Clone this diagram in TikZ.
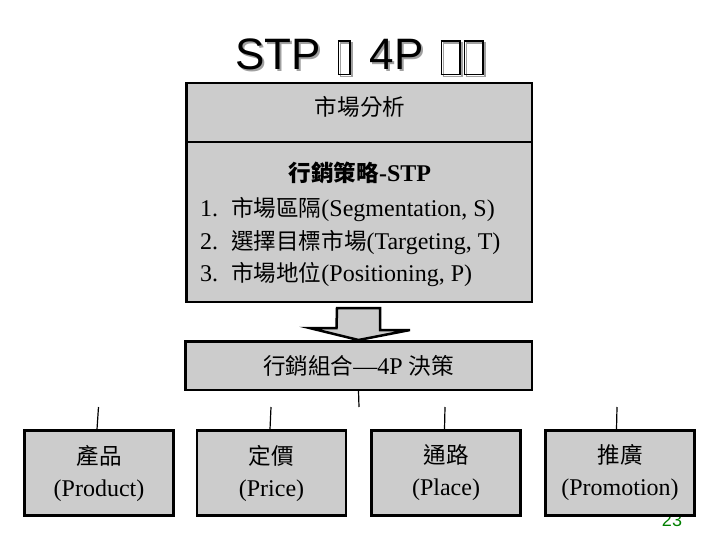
\documentclass[tikz,border=0pt]{standalone}
\usepackage{fontspec}
\setmainfont{Liberation Serif}
\setsansfont{Liberation Sans}
\newfontfamily\cjk[Scale=0.94]{Noto Sans CJK TC}
\usetikzlibrary{calc}

\definecolor{boxgray}{RGB}{204,204,204}
\definecolor{pagegreen}{RGB}{0,128,0}
\definecolor{shade}{RGB}{160,160,160}

% empty glyph boxes of the title
\newcommand\tofu[1]{\raisebox{-4pt}{\fboxsep=0pt\fboxrule=1.5pt\fbox{\rule{0pt}{32pt}\hspace{#1}}}}
\newcommand\titletext{STP\hspace{17pt}\tofu{10pt}\hspace{19pt}4P\hspace{17pt}\tofu{17pt}\kern3pt\tofu{17pt}}
\newcommand\shadowed[1]{\makebox[0pt][l]{\raisebox{-2pt}{\hspace{2pt}\color{shade}#1}}#1}

\tikzset{
  mainbox/.style={draw, line width=2.5pt, fill=boxgray, inner sep=0pt},
  pbox/.style={mainbox, minimum width=149pt, minimum height=85pt, align=center,
    font=\fontsize{24}{32}\selectfont},
  txt/.style={anchor=base, inner sep=0pt, font=\fontsize{24}{28}\selectfont},
  item/.style={txt, anchor=base west},
  link/.style={line width=1.2pt},
  blockarrow/.style={line width=2.5pt, fill=boxgray, line join=miter},
}

\begin{document}
\begin{tikzpicture}[x=1pt,y=-1pt]
\fill[white] (0,0) rectangle (720,540);
\useasboundingbox (0,0) rectangle (720,540);

% title with its shadow
\node[anchor=base west, inner sep=0pt, font=\sffamily\fontsize{44}{44}\selectfont]
  (title) at (235,70) {\shadowed{\titletext}};

% page number, partly under the last box
\node[anchor=base, inner sep=0pt, text=pagegreen, font=\sffamily\fontsize{18}{18}\selectfont]
  (pnum) at (672,526.5) {23};

% market analysis and STP
\node[mainbox, minimum width=345.5pt, minimum height=218.5pt] (stp) at (359,192.5) {};
\draw[line width=1.3pt] (stp.west |- 0,142) -- (stp.east |- 0,142);
\node[txt] (ana) at (360,116) {\cjk 市場分析};
\node[txt, font=\fontsize{24}{28}\selectfont\bfseries] (strat) at (360,182) {{\cjk 行銷策略}-STP};
\node[item] (s1) at (200,217) {\makebox[31pt][l]{1.}{\cjk 市場區隔}(Segmentation, S)};
\node[item] (s2) at (200,249) {\makebox[31pt][l]{2.}{\cjk 選擇目標市場}(Targeting, T)};
\node[item] (s3) at (200,281) {\makebox[31pt][l]{3.}{\cjk 市場地位}(Positioning, P)};

% marketing mix
\node[mainbox, minimum width=346.5pt, minimum height=48.5pt, font=\fontsize{24}{28}\selectfont]
  (mix) at (358.5,365.5) {{\cjk 行銷組合}—4P {\cjk 決策}};

% block arrow from STP to the mix
\draw[blockarrow] ($(stp.south)+(-22,5)$) -- ++(43,0) -- ++(0,22) -- ++(30,0)
  -- (mix.north) -- ++(-49,-12) -- ++(27,0) -- cycle;

% the 4P
\node[pbox] (p1) at (99,473) {{\cjk 產品}\\(Product)};
\node[pbox] (p2) at (271.5,473) {{\cjk 定價}\\(Price)};
\node[pbox] (p3) at (446,473) {{\cjk 通路}\\(Place)};
\node[pbox] (p4) at (620,473) {{\cjk 推廣}\\(Promotion)};

\coordinate (hub) at (359,407);
\draw[link] (mix.south) -- (hub);
\foreach \i/\tx/\dx in {1/98.5/-2,2/271/-1.5,3/445/-1.5,4/617/-3.5}{
  \coordinate (t\i) at (\tx,407);
  \draw[link] (t\i) -- ([xshift=\dx pt]p\i.north);
}
\end{tikzpicture}
\end{document}
